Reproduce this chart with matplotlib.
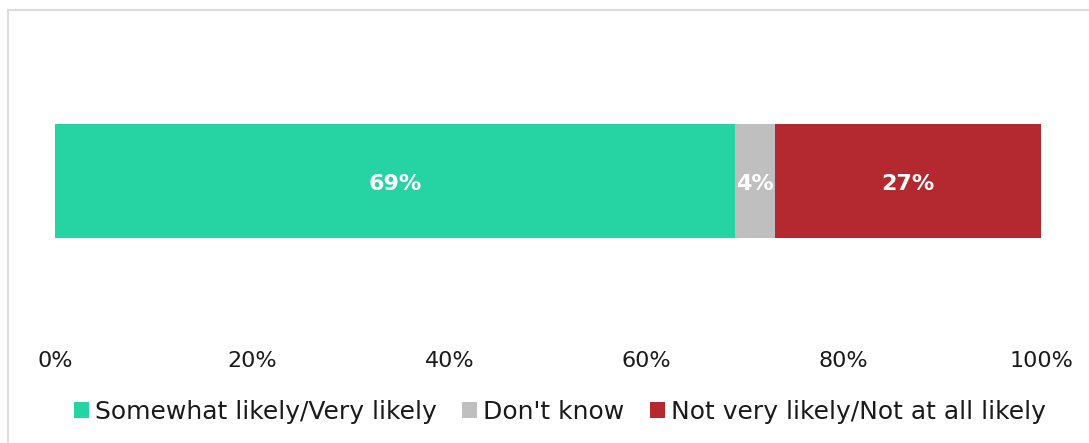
import matplotlib.pyplot as plt
from matplotlib.lines import Line2D
from matplotlib.patches import Patch

categories = ["Somewhat likely/Very likely", "Don't know", "Not very likely/Not at all likely"]
values = [69, 4, 27]
colors = ["#26D3A3", "#BFBFBF", "#B4292F"]
xticks = [0, 20, 40, 60, 80, 100]

plt.rcParams['font.family'] = ['DejaVu Sans']

W, H = 1089, 443
fig = plt.figure(figsize=(W / 100, H / 100), dpi=100)
# axes placed in pixel units
ax = fig.add_axes([55 / W, (H - 332) / H, (1041 - 55) / W, 302 / H])

left = 0
for cat, val, col in zip(categories, values, colors):
    ax.barh(0, val, left=left, height=0.755, color=col, label=cat)
    ax.text(left + val / 2, -0.02, "{}%".format(val), ha='center', va='center',
            color='white', fontsize=16, fontweight='bold')
    left += val

ax.set_xlim(0, 100)
ax.set_ylim(-1, 1)
ax.set_xticks(xticks)
ax.set_xticklabels(["{}%".format(t) for t in xticks], fontsize=16, color='#1a1a1a')
ax.tick_params(axis='x', length=0, pad=14)
ax.set_yticks([])
for s in ax.spines.values():
    s.set_visible(False)

handles = [Patch(facecolor=c, edgecolor='none') for c in colors]
fig.legend(handles, categories, loc='center', bbox_to_anchor=(560 / W, 1 - 412 / H),
           ncol=3, frameon=False, fontsize=18, handlelength=0.6, handleheight=0.6,
           handletextpad=0.25, columnspacing=1.0, labelcolor='#1a1a1a')

# chart frame on the left and top
fig.add_artist(Line2D([8 / W, 8 / W], [0, 1 - 10 / H], color='#DDDDDD', lw=1.5))
fig.add_artist(Line2D([8 / W, 1], [1 - 10 / H, 1 - 10 / H], color='#DDDDDD', lw=1.5))

fig.savefig("out.png", dpi=100)
